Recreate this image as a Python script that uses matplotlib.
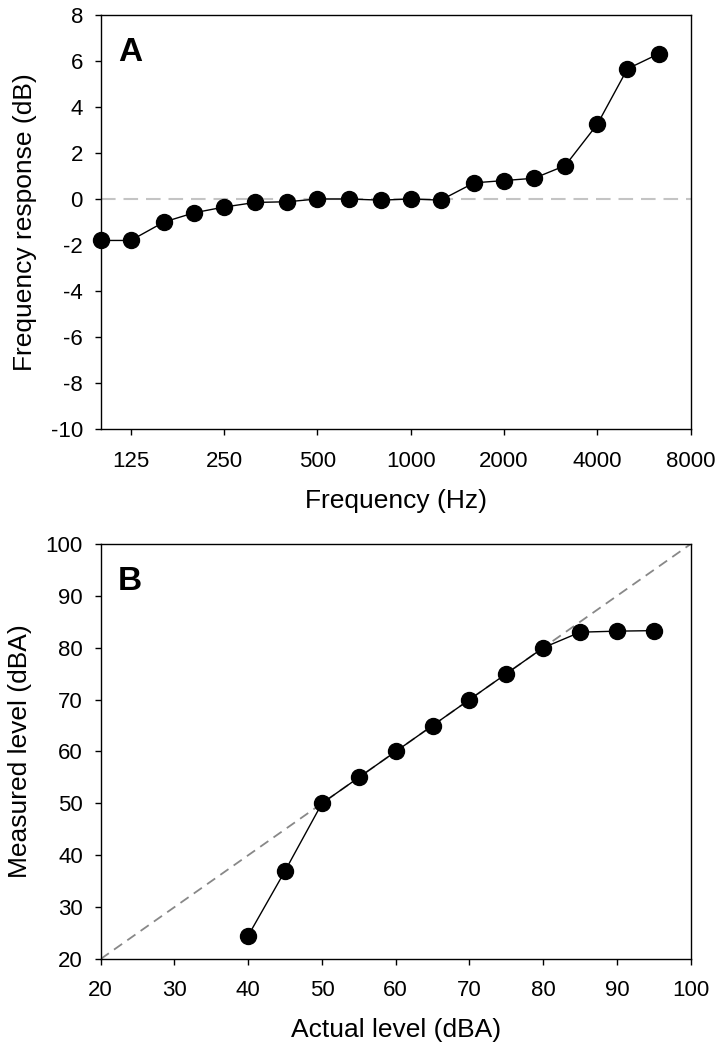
import numpy as np
import matplotlib
matplotlib.use("Agg")
from matplotlib import pyplot as plt
from matplotlib import ticker

plt.rcParams["font.family"] = ["Liberation Sans", "DejaVu Sans"]
plt.rcParams["axes.unicode_minus"] = False

# panel A: third-octave frequency response
freqs = [100, 125, 160, 200, 250, 315, 400, 500, 630, 800, 1000, 1250,
         1600, 2000, 2500, 3150, 4000, 5000, 6300]
response = [-1.8, -1.8, -1.0, -0.6, -0.35, -0.15, -0.12, 0.0, 0.0, -0.05, 0.0, -0.05,
            0.7, 0.8, 0.9, 1.45, 3.25, 5.65, 6.3]
freq_ticks = [125, 250, 500, 1000, 2000, 4000, 8000]

# panel B: level linearity
actual = [40, 45, 50, 55, 60, 65, 70, 75, 80, 85, 90, 95]
measured = [24.5, 37.0, 50.0, 55.0, 60.0, 65.0, 70.0, 75.0, 80.0, 83.0, 83.2, 83.3]

fig = plt.figure(figsize=(7.22, 10.5), dpi=100)
axA = fig.add_axes([0.1395, 0.5911, 0.8172, 0.3949])
axB = fig.add_axes([0.1395, 0.0867, 0.8172, 0.3952])

tick_fs = 16
label_fs = 19

# --- A
axA.axhline(0, color="#c4c4c4", lw=1.5, ls=(0, (7, 3.8)), zorder=1)
axA.plot(freqs, response, color="black", lw=1, marker="o", ms=11.5, zorder=3,
         clip_on=False)
axA.set_xscale("log")
axA.set_xlim(100, 8000)
axA.set_ylim(-10, 8)
axA.xaxis.set_major_locator(ticker.FixedLocator(freq_ticks))
axA.xaxis.set_major_formatter(ticker.FixedFormatter([str(f) for f in freq_ticks]))
axA.xaxis.set_minor_locator(ticker.NullLocator())
axA.set_yticks(np.arange(-10, 9, 2))
axA.set_xlabel("Frequency (Hz)", fontsize=label_fs, labelpad=12)
axA.set_ylabel("Frequency response (dB)", fontsize=label_fs, labelpad=10)
axA.text(0.029, 0.888, "A", transform=axA.transAxes, fontsize=24,
         fontweight="bold", ha="left", va="baseline")

# --- B
axB.plot([20, 100], [20, 100], color="#888888", lw=1.3, ls=(0, (5.5, 3.5)), zorder=1)
axB.plot(actual, measured, color="black", lw=1, marker="o", ms=11.5, zorder=3)
axB.set_xlim(20, 100)
axB.set_ylim(20, 100)
axB.set_xticks(np.arange(20, 101, 10))
axB.set_yticks(np.arange(20, 101, 10))
axB.set_xlabel("Actual level (dBA)", fontsize=label_fs, labelpad=12)
axB.set_ylabel("Measured level (dBA)", fontsize=label_fs, labelpad=10)
axB.text(0.029, 0.888, "B", transform=axB.transAxes, fontsize=24,
         fontweight="bold", ha="left", va="baseline")

for ax in (axA, axB):
    ax.tick_params(direction="out", length=4.5, width=1, labelsize=tick_fs,
                   top=False, right=False)
    ax.tick_params(axis="x", pad=11)
    ax.tick_params(axis="y", pad=8.3)
    for s in ax.spines.values():
        s.set_linewidth(1)

fig.savefig("out.png", dpi=100)
